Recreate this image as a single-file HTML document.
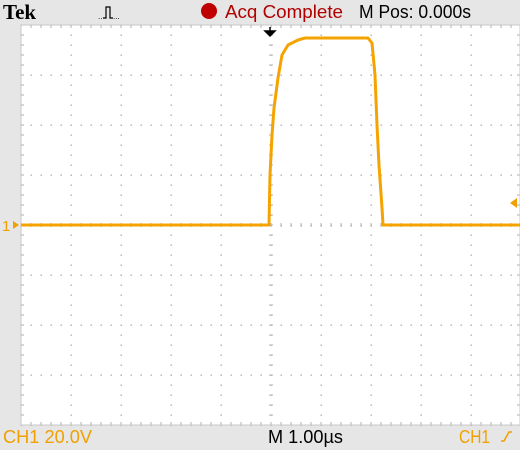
<!DOCTYPE html>
<html><head><meta charset="utf-8"><style>
html,body{margin:0;padding:0;background:#e6e6e6;}
svg{display:block;font-family:"Liberation Sans",sans-serif;}
</style></head><body>
<svg id="scope" width="520" height="450" viewBox="0 0 520 450">
<rect x="0" y="0" width="520" height="450" fill="#e6e6e6"/>
<text x="3" y="19" font-family="Liberation Serif,serif" font-weight="bold" font-size="21" fill="#000">Tek</text>
<path d="M103 18 h3 v-11 h4 v11 h3" fill="none" stroke="#000" stroke-width="1.2"/>
<text x="98" y="19" font-size="8" fill="#000">..</text>
<text x="113" y="19" font-size="8" fill="#000">...</text>
<circle cx="209" cy="11" r="8" fill="#c00000"/>
<text x="225" y="18" font-size="18" textLength="118" lengthAdjust="spacingAndGlyphs" fill="#b00000">Acq Complete</text>
<text x="359" y="18" font-size="18" textLength="112" lengthAdjust="spacingAndGlyphs" fill="#000">M Pos: 0.000s</text>
<rect x="21" y="25" width="499" height="400" fill="#fff"/>
<g id="grid"></g>
<g id="trace"></g>
<path d="M265 31 h10 l-5 5 z M270 27 v8" fill="#000" stroke="#000" stroke-width="1.5"/>
<text x="2" y="231" font-size="15" fill="#f0a000">1</text>
<path d="M19 225 l-6 -4 v8 z" fill="#f0a000"/>
<path d="M510 203 l7 -5 v10 z" fill="#f0a000"/>
<text x="3" y="443" font-size="18" textLength="89" lengthAdjust="spacingAndGlyphs" fill="#f0a000">CH1  20.0V</text>
<text x="268" y="443" font-size="18" textLength="75" lengthAdjust="spacingAndGlyphs" fill="#000">M 1.00µs</text>
<text x="459" y="443" font-size="18" textLength="31" lengthAdjust="spacingAndGlyphs" fill="#f0a000">CH1</text>
<path d="M501 441 h3 l5 -9 h3" fill="none" stroke="#f0a000" stroke-width="1.5"/>
</svg>
<script>
// time in µs (0 = center), level in divisions above ground
const timesUs = [-5.0,-0.04,-0.02,0.02,0.06,0.14,0.22,0.34,0.54,0.68,1.94,2.02,2.08,2.12,2.16,2.22,2.24,4.98];
const levelsDiv = [0.0,0.0,1.0,1.8,2.34,2.94,3.4,3.6,3.7,3.74,3.74,3.64,3.0,2.0,1.2,0.34,0.0,0.0];
const xDivs = [0,1,2,3,4,5,6,7,8,9,10];
const yDivs = [0,1,2,3,4,5,6,7,8];

const NS = "http://www.w3.org/2000/svg";
const L = 21, T = 25, DIV = 50;
function xScale(t){ return L + 5*DIV + t*DIV; }
function yScale(v){ return T + 4*DIV - v*DIV; }

const grid = document.getElementById('grid');
function dot(x,y,w,h){
  const r = document.createElementNS(NS,'rect');
  r.setAttribute('x',x); r.setAttribute('y',y); r.setAttribute('width',w); r.setAttribute('height',h);
  r.setAttribute('fill','#b0b0b0');
  
  
  grid.appendChild(r);
}
xDivs.forEach(i=>{ const x=L+i*DIV; for(let y=T;y<=T+400;y+=10) dot(x-0.5,y-0.5,1.4,1.4); });
yDivs.forEach(j=>{ const y=T+j*DIV; for(let x=L;x<=520;x+=10) dot(x-0.5,y-0.5,1.4,1.4); });
for(let x=L;x<=520;x+=10){ dot(x-0.5,T+200-2,1,4); dot(x-0.5,T,1,3); dot(x-0.5,T+397,1,3); }
for(let y=T;y<=T+400;y+=10){ dot(L+250-2,y-0.5,4,1); dot(L,y-0.5,3,1); dot(517,y-0.5,3,1); }
const b=document.createElementNS(NS,'rect');
b.setAttribute('x',L);b.setAttribute('y',T);b.setAttribute('width',499);b.setAttribute('height',400);
b.setAttribute('fill','none');b.setAttribute('stroke','#c8c8c8');


grid.appendChild(b);

const trace = document.getElementById('trace');
const d = timesUs.map((t,i)=>(i?'L':'M')+xScale(t).toFixed(1)+' '+yScale(levelsDiv[i]).toFixed(1)).join(' ');
const p = document.createElementNS(NS,'path');
p.setAttribute('d', d);
p.setAttribute('fill','none');
p.setAttribute('stroke','#f5a300');
p.setAttribute('stroke-width','3');
p.setAttribute('stroke-linejoin','round');


trace.appendChild(p);
</script>
</body></html>
